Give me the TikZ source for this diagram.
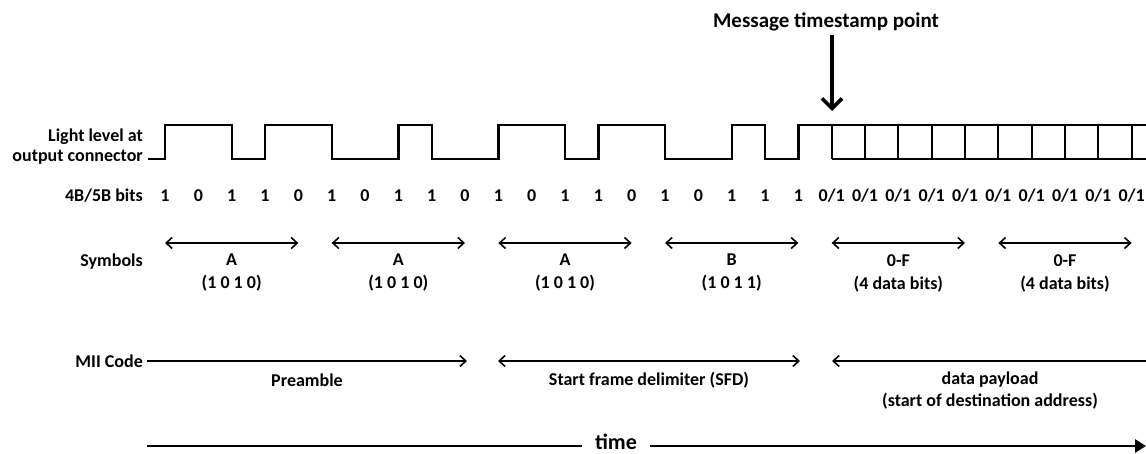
\documentclass[tikz,border=0pt]{standalone}
\usepackage{fontspec}
\setmainfont{Carlito}
\usetikzlibrary{arrows.meta}
\newcommand{\lblsize}{\fontsize{18}{20}\selectfont\bfseries}
\newcommand{\msgsize}{\fontsize{21}{24}\selectfont\bfseries}
\newcommand{\timesize}{\fontsize{22}{24}\selectfont\bfseries}
\tikzset{
  lbl/.style={font=\lblsize, inner sep=0pt},
  wave/.style={line width=2.4pt},
  cell/.style={line width=2pt},
  span/.style={line width=1.6pt},
  barb/.tip={Straight Barb[length=6pt,width=11pt]},
}
\begin{document}
\begin{tikzpicture}[x=1pt,y=-1pt]
\useasboundingbox (0,0) rectangle (1146,453);
% row labels
\node[lbl,anchor=east,align=right] (light) at (143,147) {Light level at\\output connector};
\node[lbl,anchor=east] (bitsl) at (143,196) {4B/5B bits};
\node[lbl,anchor=east] (syml) at (143,262) {Symbols};
\node[lbl,anchor=east,inner xsep=4pt] (miil) at (147,361) {MII Code};
% light level
\draw[wave] (148,159) -- (165,159) -- (165,125) -- (231.7,125) -- (231.7,159)
  -- (265,159) -- (265,125) -- (331.7,125) -- (331.7,159) -- (398.3,159)
  -- (398.3,125) -- (431.7,125) -- (431.7,159) -- (498.3,159) -- (498.3,125)
  -- (565,125) -- (565,159) -- (598.3,159) -- (598.3,125) -- (665,125)
  -- (665,159) -- (731.7,159) -- (731.7,125) -- (765,125) -- (765,159)
  -- (798.3,159) -- (798.3,125) -- (1146,125);
\draw[cell] (831.7,159) -- (1146,159);
\foreach \i in {20,...,29}
  \draw[cell] ({165+100*\i/3},125) -- ({165+100*\i/3},159);
% 4B/5B bits
\foreach \b [count=\i from 0] in {1,0,1,1,0,1,0,1,1,0,1,0,1,1,0,1,0,1,1,1}
  \node[lbl] (bit\i) at ({165+100*\i/3},196) {\b};
\foreach \i in {20,...,29}
  \node[lbl] (bit\i) at ({165+100*\i/3},196) {0/1};
% symbols
\foreach \s/\c [count=\k from 0] in {A/{(1 0 1 0)},A/{(1 0 1 0)},A/{(1 0 1 0)},
    B/{(1 0 1 1)},0-F/{(4 data bits)},0-F/{(4 data bits)}} {
  \coordinate (sl\k) at ({165+500*\k/3},243);
  \coordinate (sr\k) at ({165+500*\k/3+400/3},243);
  \draw[span,barb-barb] (sl\k) -- (sr\k);
  \node[lbl,align=center] (sym\k) at ({165+500*\k/3+200/3},273) {\s\\[3pt]\c};
}
% MII code
\coordinate (preR) at (467,361);
\coordinate (sfdL) at (498,361);
\coordinate (sfdR) at (800,361);
\coordinate (payL) at (832,361);
\coordinate (payR) at (1146,361);
\draw[span,-barb] (miil.east) -- (preR);
\draw[span,barb-barb] (sfdL) -- (sfdR);
\draw[span,barb-] (payL) -- (payR);
\node[lbl] (pre) at (307,380) {Preamble};
\node[lbl] (sfd) at (649,380) {Start frame delimiter (SFD)};
\node[lbl,align=center] (pay) at (990,391) {data payload\\[2pt](start of destination address)};
% time
\node[font=\timesize,inner xsep=13pt,inner ysep=0pt] (time) at (616,442) {time};
\coordinate (tL) at (147,446);
\coordinate (tR) at (1146,446);
\draw[line width=2.8pt] (tL) -- (tL -| time.west);
\draw[line width=2.8pt,-{Triangle[length=11pt,width=13pt]}] (tL -| time.east) -- (tR);
% timestamp
\node[font=\msgsize] (msg) at (826,22) {Message timestamp point};
\coordinate (stamp) at (832,111);
\draw[line width=3.6pt,-{Straight Barb[length=10pt,width=20pt]}] (msg.south -| stamp) -- (stamp);
\end{tikzpicture}
\end{document}
